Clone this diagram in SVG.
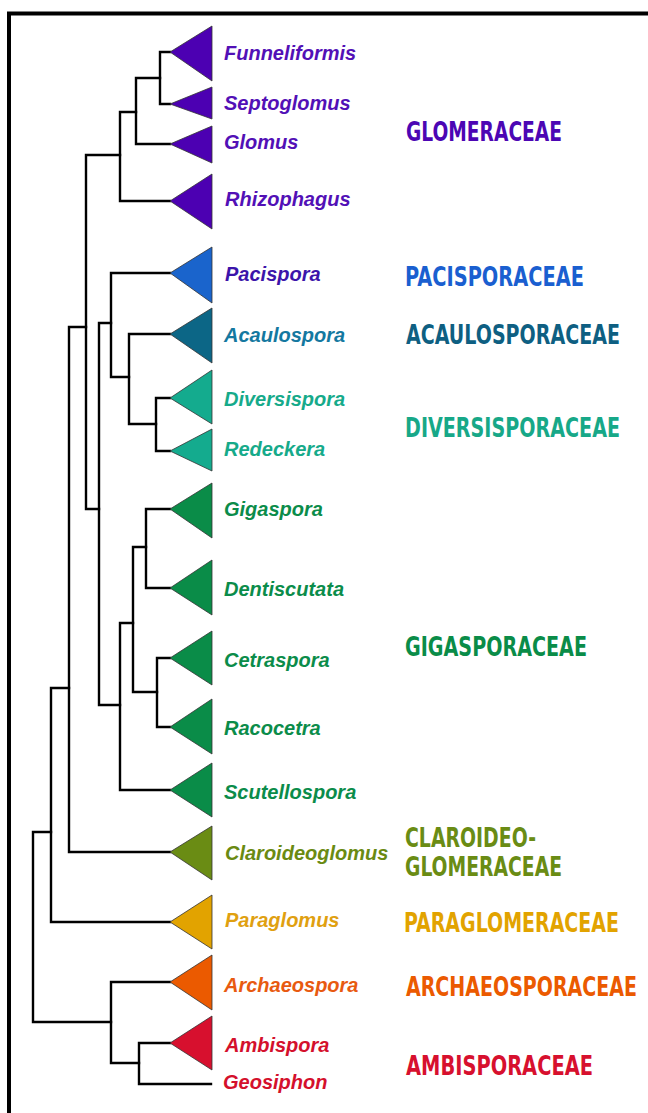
<svg xmlns="http://www.w3.org/2000/svg" width="648" height="1113" viewBox="0 0 648 1113">
<style>
.tree{fill:none;stroke:#000;stroke-width:2.4;stroke-linejoin:miter;stroke-linecap:square}
.tri{stroke:#333;stroke-width:0.8;stroke-linejoin:miter}
.g{font-family:"Liberation Sans",Arial,sans-serif;font-size:20px;font-weight:bold;font-style:italic}
.f{font-family:"Liberation Sans Narrow","DejaVu Sans Condensed","Liberation Sans",sans-serif;font-size:20px;font-weight:bold;font-stretch:condensed}
</style>
<rect width="648" height="1113" fill="#fff"/>
<path d="M9,1113 V13.5 H648" fill="none" stroke="#000" stroke-width="4"/>
<g id="connectors" class="tree">
<path d="M170,52 H160 V104 H170"/>
<path d="M160,78 H136 V144 H170"/>
<path d="M136,112 H120 V201 H170"/>
<path d="M120,155 H86 V509 H99"/>
<path d="M111,323 H99 V705 H120"/>
<path d="M170,273 H111 V377 H129"/>
<path d="M170,334 H129 V424 H156"/>
<path d="M170,398 H156 V451 H170"/>
<path d="M133,623 H120 V790 H170"/>
<path d="M146,547 H133 V692 H157"/>
<path d="M170,509 H146 V588 H170"/>
<path d="M170,658 H157 V727 H170"/>
<path d="M86,327 H69 V852 H170"/>
<path d="M69,688 H51 V922 H170"/>
<path d="M51,832 H33 V1022 H111"/>
<path d="M170,982 H111 V1063 H139"/>
<path d="M170,1043 H139 V1084 H211"/>
</g>
<g id="funneliformis"><polygon class="tri" fill="#4c00b2" points="170,52 212,26 212,81"/><text class="g" fill="#5210b6" x="224" y="60">Funneliformis</text></g>
<g id="septoglomus"><polygon class="tri" fill="#4c00b2" points="170,104 212,87 212,119"/><text class="g" fill="#5210b6" x="224" y="110">Septoglomus</text></g>
<g id="glomus"><polygon class="tri" fill="#4c00b2" points="170,144 212,126 212,163"/><text class="g" fill="#5210b6" x="224" y="149">Glomus</text></g>
<g id="rhizophagus"><polygon class="tri" fill="#4c00b2" points="170,201 212,174 212,229"/><text class="g" fill="#5210b6" x="225" y="206">Rhizophagus</text></g>
<g id="pacispora"><polygon class="tri" fill="#1a64cc" points="170,273 212,247 212,303"/><text class="g" fill="#3c14aa" x="225" y="281">Pacispora</text></g>
<g id="acaulospora"><polygon class="tri" fill="#0c6686" points="170,334 212,308 212,363"/><text class="g" fill="#1478a0" x="224" y="342">Acaulospora</text></g>
<g id="diversispora"><polygon class="tri" fill="#14ab8e" points="170,398 212,370 212,424"/><text class="g" fill="#16aa8a" x="224" y="406">Diversispora</text></g>
<g id="redeckera"><polygon class="tri" fill="#14ab8e" points="170,451 212,429 212,471"/><text class="g" fill="#16aa8a" x="224" y="456">Redeckera</text></g>
<g id="gigaspora"><polygon class="tri" fill="#0a8c48" points="170,509 212,483 212,538"/><text class="g" fill="#0b8c4a" x="224" y="516">Gigaspora</text></g>
<g id="dentiscutata"><polygon class="tri" fill="#0a8c48" points="170,588 212,560 212,615"/><text class="g" fill="#0b8c4a" x="224" y="596">Dentiscutata</text></g>
<g id="cetraspora"><polygon class="tri" fill="#0a8c48" points="170,658 212,631 212,685"/><text class="g" fill="#0b8c4a" x="224" y="667">Cetraspora</text></g>
<g id="racocetra"><polygon class="tri" fill="#0a8c48" points="170,727 212,699 212,754"/><text class="g" fill="#0b8c4a" x="224" y="735">Racocetra</text></g>
<g id="scutellospora"><polygon class="tri" fill="#0a8c48" points="170,790 212,763 212,817"/><text class="g" fill="#0b8c4a" x="224" y="799">Scutellospora</text></g>
<g id="claroideoglomus"><polygon class="tri" fill="#6a8c14" points="170,852 212,826 212,880"/><text class="g" fill="#6a8a12" x="225" y="860">Claroideoglomus</text></g>
<g id="paraglomus"><polygon class="tri" fill="#e2a300" points="170,922 212,895 212,949"/><text class="g" fill="#e0a010" x="225" y="927">Paraglomus</text></g>
<g id="archaeospora"><polygon class="tri" fill="#eb5a00" points="170,982 212,955 212,1010"/><text class="g" fill="#e85a10" x="224" y="992">Archaeospora</text></g>
<g id="ambispora"><polygon class="tri" fill="#d7102e" points="170,1043 212,1016 212,1070"/><text class="g" fill="#d4102c" x="225" y="1052">Ambispora</text></g>
<g id="geosiphon"><text class="g" fill="#d4102c" x="223" y="1089">Geosiphon</text></g>
<g id="fam-glomeraceae" transform="translate(406,141) scale(1,1.35)"><text class="f" fill="#4c06b4" x="0" y="0" textLength="156" lengthAdjust="spacingAndGlyphs">GLOMERACEAE</text></g>
<g id="fam-pacisporaceae" transform="translate(405,286) scale(1,1.35)"><text class="f" fill="#1a5fd0" x="0" y="0" textLength="179" lengthAdjust="spacingAndGlyphs">PACISPORACEAE</text></g>
<g id="fam-acaulosporaceae" transform="translate(406,344) scale(1,1.35)"><text class="f" fill="#0e5f82" x="0" y="0" textLength="214" lengthAdjust="spacingAndGlyphs">ACAULOSPORACEAE</text></g>
<g id="fam-diversisporaceae" transform="translate(405,437) scale(1,1.35)"><text class="f" fill="#17a888" x="0" y="0" textLength="215" lengthAdjust="spacingAndGlyphs">DIVERSISPORACEAE</text></g>
<g id="fam-gigasporaceae" transform="translate(405,656) scale(1,1.35)"><text class="f" fill="#0a8c48" x="0" y="0" textLength="182" lengthAdjust="spacingAndGlyphs">GIGASPORACEAE</text></g>
<g id="fam-claroideoglomeraceae"><text class="f" fill="#6a8c14" transform="translate(405,847) scale(1,1.35)" x="0" y="0" textLength="131" lengthAdjust="spacingAndGlyphs">CLAROIDEO-</text><text class="f" fill="#6a8c14" transform="translate(405,876) scale(1,1.35)" x="0" y="0" textLength="157" lengthAdjust="spacingAndGlyphs">GLOMERACEAE</text></g>
<g id="fam-paraglomeraceae" transform="translate(404,932) scale(1,1.35)"><text class="f" fill="#e2a300" x="0" y="0" textLength="215" lengthAdjust="spacingAndGlyphs">PARAGLOMERACEAE</text></g>
<g id="fam-archaeosporaceae" transform="translate(406,996) scale(1,1.35)"><text class="f" fill="#eb5a00" x="0" y="0" textLength="231" lengthAdjust="spacingAndGlyphs">ARCHAEOSPORACEAE</text></g>
<g id="fam-ambisporaceae" transform="translate(406,1075) scale(1,1.35)"><text class="f" fill="#d7102e" x="0" y="0" textLength="187" lengthAdjust="spacingAndGlyphs">AMBISPORACEAE</text></g>
</svg>
